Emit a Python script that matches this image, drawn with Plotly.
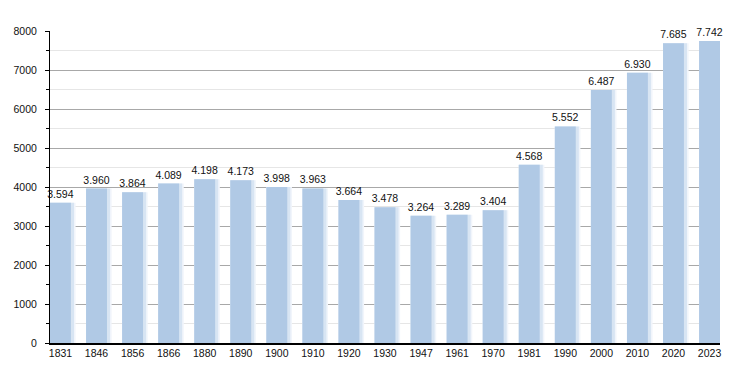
import plotly.graph_objects as go

years = ["1831", "1846", "1856", "1866", "1880", "1890", "1900", "1910", "1920", "1930",
         "1947", "1961", "1970", "1981", "1990", "2000", "2010", "2020", "2023"]
population = [3594, 3960, 3864, 4089, 4198, 4173, 3998, 3963, 3664, 3478,
              3264, 3289, 3404, 4568, 5552, 6487, 6930, 7685, 7742]
labels = [f"{v:,}".replace(",", ".") for v in population]
y_ticks = [0, 1000, 2000, 3000, 4000, 5000, 6000, 7000, 8000]

idx = list(range(len(years)))

fig = go.Figure()
# soft shadow on the right side of each bar
for w, c in [(0.71, "#f1f5fb"), (0.665, "#d8e5f3")]:
    fig.add_trace(go.Bar(
        x=idx, y=population, width=w, offset=-0.29,
        marker=dict(color=c, line=dict(width=0)),
        hoverinfo="skip", cliponaxis=False,
    ))
fig.add_trace(go.Bar(
    x=idx, y=population, width=0.58,
    marker=dict(color="#b0c9e5", line=dict(width=0)),
    text=labels, textposition="outside", cliponaxis=False,
    constraintext="none",
    textfont=dict(size=10.5, color="#111111"),
))

fig.update_layout(
    width=742, height=365,
    margin=dict(l=42, r=30, t=23, b=30, autoexpand=False),
    paper_bgcolor="white", plot_bgcolor="white",
    font=dict(family="Liberation Sans, Arial, sans-serif", size=10.5, color="#111111"),
    showlegend=False,
    barmode="overlay",
)
fig.update_xaxes(
    range=[-0.29, len(years) - 1 + 0.29],
    tickmode="array", tickvals=idx, ticktext=years,
    showline=True, linecolor="black", linewidth=1.5,
    showgrid=False, ticks="", zeroline=False,
    tickfont=dict(size=10.5), automargin=False,
)
fig.update_yaxes(
    range=[0, 8000],
    tickmode="array", tickvals=y_ticks,
    showline=True, linecolor="black", linewidth=1,
    showgrid=True, gridcolor="#a8a8a8", gridwidth=1,
    ticks="outside", ticklen=4, tickcolor="black",
    ticklabelstandoff=6,
    minor=dict(dtick=500, showgrid=True, gridcolor="#e6e6e6", ticks="outside", ticklen=3, tickcolor="black"),
    zeroline=False,
    tickfont=dict(size=10.5), automargin=False,
)

fig.write_html("out.html")
